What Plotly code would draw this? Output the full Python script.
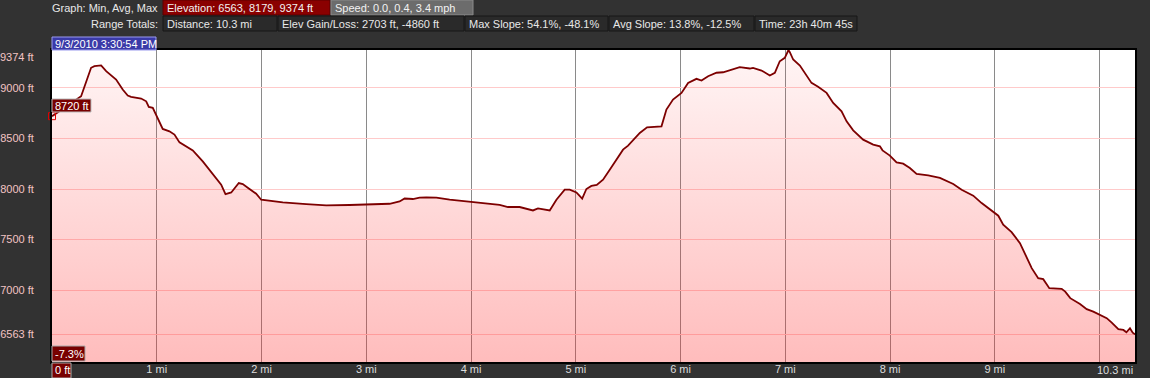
import plotly.graph_objects as go

# ---------------- data ----------------
distance_mi = [0.0, 0.071, 0.278, 0.373, 0.405, 0.469, 0.517, 0.612, 0.675, 0.723, 0.755, 0.851, 0.899,
               0.924, 0.962, 1.0, 1.057, 1.121, 1.169, 1.217, 1.281, 1.344, 1.439, 1.535, 1.615, 1.656,
               1.711, 1.783, 1.821, 1.885, 1.949, 1.997, 2.203, 2.427, 2.618, 2.840, 3.032, 3.223, 3.318,
               3.366, 3.445, 3.509, 3.573, 3.669, 3.796, 3.996, 4.146, 4.273, 4.352, 4.464, 4.591, 4.639,
               4.751, 4.815, 4.894, 4.942, 5.006, 5.061, 5.101, 5.149, 5.200, 5.260, 5.324, 5.388, 5.451,
               5.499, 5.611, 5.680, 5.818, 5.865, 5.928, 6.009, 6.072, 6.152, 6.200, 6.263, 6.343, 6.406,
               6.565, 6.661, 6.692, 6.773, 6.852, 6.900, 6.947, 6.995, 7.030, 7.043, 7.075, 7.139, 7.250,
               7.313, 7.394, 7.457, 7.537, 7.585, 7.648, 7.743, 7.839, 7.903, 7.928, 7.998, 8.062, 8.125,
               8.189, 8.253, 8.364, 8.476, 8.603, 8.683, 8.794, 8.874, 8.985, 9.033, 9.080, 9.160, 9.240,
               9.304, 9.352, 9.414, 9.462, 9.520, 9.638, 9.672, 9.720, 9.813, 9.877, 9.940, 9.988, 10.068,
               10.116, 10.179, 10.227, 10.256, 10.290, 10.316, 10.338]
elevation_ft = [8720, 8768, 8917, 9198, 9214, 9221, 9165, 9082, 8983, 8924, 8911, 8894, 8867,
                8812, 8802, 8719, 8594, 8570, 8538, 8461, 8422, 8382, 8273, 8151, 8043, 7950,
                7966, 8059, 8049, 8000, 7953, 7894, 7867, 7851, 7838, 7842, 7851, 7854, 7877,
                7906, 7901, 7914, 7917, 7914, 7894, 7871, 7854, 7844, 7822, 7822, 7788, 7808,
                7788, 7894, 7993, 7993, 7966, 7904, 8000, 8030, 8040, 8092, 8191, 8290, 8389,
                8429, 8554, 8610, 8620, 8785, 8884, 8950, 9049, 9089, 9072, 9115, 9149, 9154,
                9204, 9191, 9198, 9171, 9122, 9149, 9263, 9297, 9374, 9352, 9280, 9221, 9049,
                9010, 8950, 8851, 8768, 8669, 8580, 8488, 8439, 8422, 8382, 8330, 8263, 8250,
                8208, 8149, 8135, 8109, 8049, 7993, 7934, 7861, 7768, 7736, 7647, 7574, 7465,
                7333, 7218, 7119, 7109, 7020, 7013, 6986, 6921, 6864, 6812, 6788, 6765, 6723,
                6679, 6614, 6607, 6584, 6624, 6580, 6563]

y_tick_values = [6563, 7000, 7500, 8000, 8500, 9000]
y_tick_labels = ["6563 ft", "7000 ft", "7500 ft", "8000 ft", "8500 ft", "9000 ft"]
y_max_value = 9374
y_max_label = "9374 ft"
x_tick_values = [1, 2, 3, 4, 5, 6, 7, 8, 9, 10]
x_tick_labels = ["1 mi", "2 mi", "3 mi", "4 mi", "5 mi", "6 mi", "7 mi", "8 mi", "9 mi", ""]
x_end_label = "10.3 mi"

cursor_distance = 0.0
cursor_elevation = 8720
cursor_elev_label = "8720 ft"
cursor_slope_label = "-7.3%"
cursor_dist_label = "0 ft"
cursor_time_label = "9/3/2010 3:30:54 PM"

header_row1_title = "Graph: Min, Avg, Max"
header_row1 = ["Elevation: 6563, 8179, 9374 ft", "Speed: 0.0, 0.4, 3.4 mph"]
header_row2_title = "Range Totals:"
header_row2 = ["Distance: 10.3 mi", "Elev Gain/Loss: 2703 ft, -4860 ft", "Max Slope: 54.1%, -48.1%",
               "Avg Slope: 13.8%, -12.5%", "Time: 23h 40m 45s"]

# ---------------- layout geometry (pixels) ----------------
W, H = 1150, 378
ML, MR, MT, MB = 52, 15, 50, 16
PW, PH = W - ML - MR, H - MT - MB
Y_LOW = 6290
X_END = distance_mi[-1]


def px(x):
    return (x - ML) / PW


def py(y):
    return (H - MB - y) / PH


FONT = "Liberation Sans, Arial, sans-serif"
BG = "#323232"

fig = go.Figure()
fig.add_trace(go.Scatter(
    x=distance_mi, y=elevation_ft, mode="lines",
    line=dict(color="#7d0000", width=1.8),
    fill="tozeroy",
    fillgradient=dict(type="vertical",
                      colorscale=[[0, "rgba(255,40,40,0.31)"], [1, "rgba(255,40,40,0.045)"]],
                      start=Y_LOW, stop=y_max_value),
    hoverinfo="skip", showlegend=False,
))
fig.add_trace(go.Scatter(
    x=[cursor_distance], y=[cursor_elevation], mode="markers",
    marker=dict(symbol="square-open", size=7, color="#e00000", line=dict(width=1)),
    cliponaxis=False, showlegend=False, hoverinfo="skip",
))

shapes = []
annotations = []


def box(x0, x1, y0, y1, fill, border, text, color="#e8e8e8", pad=3, size=11):
    shapes.append(dict(type="rect", xref="paper", yref="paper",
                       x0=px(x0), x1=px(x1), y0=py(y1), y1=py(y0),
                       fillcolor=fill, line=dict(color=border, width=1), layer="above"))
    annotations.append(dict(xref="paper", yref="paper", x=px(x0 + pad), y=py((y0 + y1) / 2),
                            xanchor="left", yanchor="middle", text=text, showarrow=False,
                            borderpad=0, font=dict(family=FONT, size=size, color=color)))


def label(x, y, text, anchor="right", color="#e8e8e8"):
    annotations.append(dict(xref="paper", yref="paper", x=px(x), y=py(y), xanchor=anchor,
                            yanchor="middle", text=text, showarrow=False, borderpad=0,
                            font=dict(family=FONT, size=11, color=color)))


# header
label(159, 8, header_row1_title)
box(163, 330, 0, 15, "#8a0000", "#5a0000", header_row1[0], color="#f2f2f2")
box(331, 473, 0, 15, "#6c6c6c", "#8a8a8a", header_row1[1], color="#f2f2f2")
label(159, 24, header_row2_title)
row2_edges = [163, 278, 465, 609, 755, 858]
for i, t in enumerate(header_row2):
    box(row2_edges[i], row2_edges[i + 1] - 1, 16, 31, "#2a2a2a", "#171717", t)

# cursor readouts
box(52, 156, 37, 50, "#3a3aa8", "#9a9aee", cursor_time_label, color="#ffffff", pad=2)
box(52, 91, 99, 112, "#780000", "#bbbbbb", cursor_elev_label, color="#ffffff", pad=2)
box(52, 85, 346, 361, "#780000", "#aaaaaa", cursor_slope_label, color="#ffffff", pad=2)
box(52, 71, 363, 378, "#780000", "#aaaaaa", cursor_dist_label, color="#ffffff", pad=2)

# axis end labels
annotations.append(dict(xref="paper", yref="y", x=0, y=y_max_value, yshift=-7, xanchor="right",
                        xshift=-16, yanchor="middle", text=y_max_label, showarrow=False,
                        font=dict(family=FONT, size=11, color="#f2c4c4")))
annotations.append(dict(xref="paper", yref="paper", x=1, y=py(370), xanchor="right",
                        yanchor="middle", text=x_end_label, showarrow=False,
                        font=dict(family=FONT, size=11, color="#dddddd")))

fig.update_layout(
    width=W, height=H,
    margin=dict(l=ML, r=MR, t=MT, b=MB, pad=0, autoexpand=False),
    paper_bgcolor=BG, plot_bgcolor="#ffffff",
    showlegend=False,
    shapes=shapes, annotations=annotations,
    xaxis=dict(range=[0, X_END], tickvals=x_tick_values, ticktext=x_tick_labels,
               showgrid=True, gridcolor="#8a8a8a", gridwidth=1, zeroline=False,
               showline=True, linecolor="#000000", linewidth=2, mirror=True,
               ticks="", ticklabelstandoff=-4, automargin=False,
               tickfont=dict(family=FONT, size=11, color="#dddddd"), fixedrange=True),
    yaxis=dict(range=[Y_LOW, y_max_value], tickvals=y_tick_values, ticktext=y_tick_labels,
               showgrid=True, gridcolor="#ffcaca", gridwidth=1, zeroline=False,
               showline=True, linecolor="#000000", linewidth=2, mirror=True,
               ticks="", ticklabelstandoff=14, automargin=False,
               tickfont=dict(family=FONT, size=11, color="#f2c4c4"), fixedrange=True),
)

fig.write_html("out.html", config={"displayModeBar": False})
